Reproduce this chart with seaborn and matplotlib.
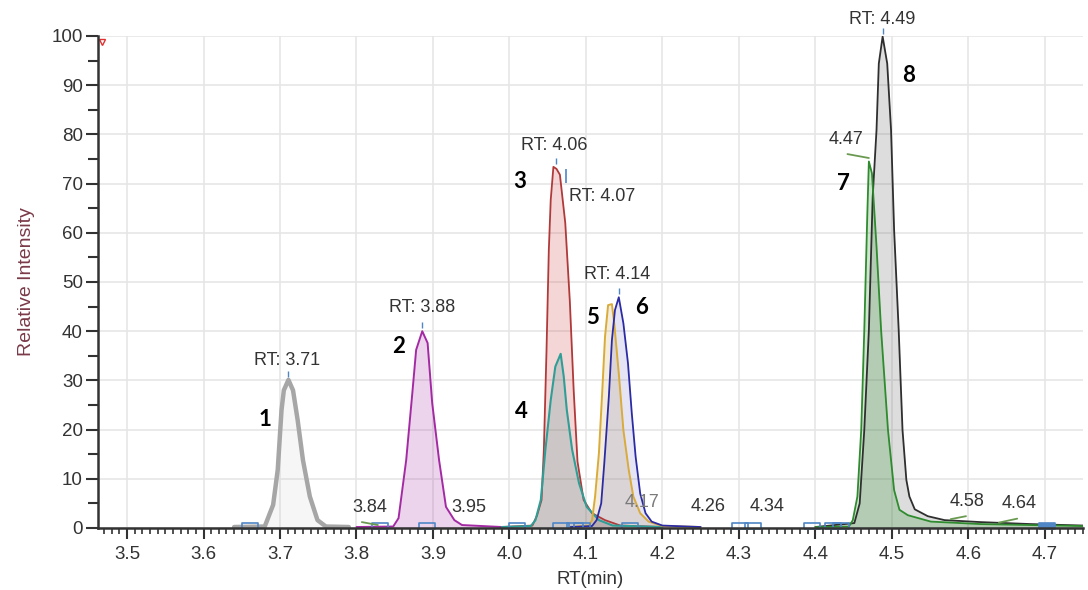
import numpy as np
import pandas as pd
import matplotlib
matplotlib.use("Agg")
import matplotlib.pyplot as plt
import seaborn as sns
from matplotlib.ticker import MultipleLocator, FormatStrFormatter

# === DATA ===
rt_p1 = [3.640, 3.680, 3.691, 3.697, 3.702, 3.705, 3.711, 3.717, 3.723, 3.730, 3.739, 3.749, 3.760, 3.790]
int_p1 = [0.2, 0.3, 4.7, 11.8, 24.0, 28.0, 30.1, 28.0, 22.0, 13.8, 6.4, 1.6, 0.3, 0.2]

rt_p2 = [3.800, 3.848, 3.855, 3.865, 3.873, 3.878, 3.886, 3.893, 3.899, 3.908, 3.917, 3.928, 3.938, 3.990]
int_p2 = [0.2, 0.3, 2.0, 13.8, 27.4, 36.2, 40.0, 37.6, 25.4, 13.8, 4.3, 1.6, 0.6, 0.2]

rt_p3 = [3.990, 4.030, 4.036, 4.042, 4.045, 4.0485, 4.0515, 4.054, 4.0575, 4.0615, 4.066,
         4.073, 4.079, 4.084, 4.089, 4.097, 4.108, 4.125, 4.145, 4.200]
int_p3 = [0.2, 0.5, 2.5, 5.7, 15.9, 36.2, 56.5, 66.7, 73.4, 73.0, 71.8,
          62.0, 46.0, 28.0, 13.5, 5.7, 3.0, 1.6, 0.5, 0.2]

rt_p4 = [3.990, 4.028, 4.034, 4.041, 4.047, 4.054, 4.060, 4.067, 4.071, 4.075, 4.082, 4.091, 4.101, 4.117, 4.135, 4.200]
int_p4 = [0.2, 0.4, 1.6, 5.7, 15.9, 26.0, 32.8, 35.4, 30.8, 24.0, 15.9, 9.1, 4.3, 1.6, 0.5, 0.2]

rt_p5 = [4.080, 4.104, 4.108, 4.112, 4.117, 4.121, 4.125, 4.129, 4.134, 4.137, 4.143, 4.149,
         4.156, 4.162, 4.171, 4.182, 4.200, 4.250]
int_p5 = [0.2, 0.5, 1.6, 6.4, 15.2, 26.7, 38.9, 45.3, 45.5, 41.6, 31.4, 19.9,
          11.8, 6.4, 3.0, 1.3, 0.4, 0.2]

rt_p6 = [4.080, 4.108, 4.114, 4.120, 4.124, 4.130, 4.134, 4.138, 4.143, 4.149, 4.155, 4.160,
         4.165, 4.171, 4.178, 4.186, 4.200, 4.250]
int_p6 = [0.2, 0.4, 1.6, 5.0, 13.1, 26.7, 38.2, 44.3, 46.9, 41.6, 33.5, 23.3,
          14.5, 7.0, 3.0, 1.3, 0.5, 0.2]

rt_p7 = [4.400, 4.444, 4.449, 4.455, 4.460, 4.464, 4.468, 4.470, 4.474, 4.480, 4.486, 4.495,
         4.503, 4.510, 4.521, 4.551, 4.616, 4.681, 4.750]
int_p7 = [0.2, 0.3, 1.6, 6.4, 19.9, 40.2, 64.0, 74.5, 72.1, 57.2, 40.2, 19.9,
          7.7, 3.7, 2.6, 1.3, 0.8, 0.6, 0.4]

rt_p8 = [4.400, 4.451, 4.458, 4.464, 4.470, 4.475, 4.480, 4.483, 4.488, 4.494, 4.499, 4.503,
         4.509, 4.514, 4.519, 4.523, 4.530, 4.547, 4.569, 4.616, 4.681, 4.750]
int_p8 = [0.2, 1.0, 5.0, 19.9, 40.2, 67.3, 80.9, 94.4, 99.9, 94.4, 80.9, 60.6,
          40.2, 19.9, 9.8, 6.4, 3.8, 2.4, 1.6, 1.2, 0.8, 0.5]

# peak boundary markers on the baseline
boundary_rt = [3.661, 3.831, 3.892, 4.010, 4.068, 4.086, 4.095, 4.157, 4.301, 4.318, 4.395, 4.423, 4.434]
boundary_end_rt = [4.703]

# RT labels: (text, rt, intensity, colour, ha)
rt_labels = [
    ("RT: 3.71", 3.709, 32.4, "#333333", "center"),
    ("RT: 3.88", 3.886, 43.0, "#333333", "center"),
    ("RT: 4.06", 4.059, 76.0, "#333333", "center"),
    ("RT: 4.07", 4.078, 65.6, "#333333", "left"),
    ("RT: 4.14", 4.141, 49.8, "#333333", "center"),
    ("RT: 4.49", 4.487, 101.6, "#333333", "center"),
    ("4.47", 4.440, 77.2, "#333333", "center"),
    ("3.84", 3.817, 2.4, "#333333", "center"),
    ("3.95", 3.947, 2.4, "#333333", "center"),
    ("4.17", 4.173, 3.5, "#7a7a7a", "center"),
    ("4.26", 4.260, 2.7, "#333333", "center"),
    ("4.34", 4.337, 2.7, "#333333", "center"),
    ("4.58", 4.598, 3.7, "#333333", "center"),
    ("4.64", 4.667, 3.3, "#333333", "center"),
]

# compound numbers
peak_numbers = ["1", "2", "3", "4", "5", "6", "7", "8"]
number_rt = [3.680, 3.855, 4.014, 4.015, 4.109, 4.173, 4.437, 4.522]
number_int = [22.0, 36.8, 70.5, 23.6, 42.7, 44.9, 70.1, 92.0]

# === STYLE ===
sns.set_style("white")
plt.rcParams["font.family"] = ["Liberation Sans", "DejaVu Sans"]

traces = [
    (rt_p1, int_p1, "#a6a6a6", 3.2, "#bdbdbd", 0.12),
    (rt_p2, int_p2, "#a42aa4", 1.4, "#a42aa4", 0.2),
    (rt_p3, int_p3, "#b03a3a", 1.3, "#d04545", 0.22),
    (rt_p4, int_p4, "#2f9e96", 1.5, "#2f8f88", 0.2),
    (rt_p5, int_p5, "#d9ab3a", 1.4, "#c9a050", 0.2),
    (rt_p6, int_p6, "#2b2ba5", 1.3, "#5050c0", 0.15),
    (rt_p8, int_p8, "#2f2f2f", 1.3, "#555555", 0.2),
    (rt_p7, int_p7, "#2e8b2e", 1.3, "#3c9a3c", 0.25),
]

fig = plt.figure(figsize=(10.88, 5.9), dpi=100)
ax = fig.add_axes([98 / 1088, 62 / 590, 985 / 1088, 492 / 590])

for rt, inten, col, lw, fcol, alpha in traces:
    ax.fill_between(rt, 0, inten, color=fcol, alpha=alpha, lw=0, zorder=2)
    sns.lineplot(x=rt, y=inten, color=col, lw=lw, ax=ax, sort=False, estimator=None, zorder=3)

# boundary markers
rect = [(-1, -0.45), (1, -0.45), (1, 0.45), (-1, 0.45), (-1, -0.45)]
ax.plot(boundary_rt, [0.45] * len(boundary_rt), ls="none", marker=rect, ms=11,
        mfc="none", mec="#4f86c6", mew=1.2, clip_on=False, zorder=4)
ax.plot(boundary_end_rt, [0.45] * len(boundary_end_rt), ls="none", marker=rect, ms=11,
        mfc="#4f86c6", mec="#4f86c6", mew=1.2, clip_on=False, zorder=4)
ax.plot([3.467], [98.8], ls="none", marker="v", ms=5, mfc="none", mec="#e03030", mew=1, clip_on=False, zorder=5)

# apex tick marks
ax.plot([3.711, 3.886, 4.061, 4.143, 4.488], [31.3, 41.2, 74.6, 48.2, 101.0], ls="none",
        marker="|", ms=4, mec="#4f86c6", mew=1, clip_on=False, zorder=5)
ax.plot([4.074], [71.5], ls="none", marker="|", ms=10, mec="#4f86c6", mew=1.2, zorder=5)

# leader lines below some labels
for x0, y0, x1, y1 in [(3.807, 1.2, 3.828, 0.6), (4.442, 76.0, 4.470, 75.2),
                       (4.577, 1.8, 4.597, 2.4), (4.640, 1.1, 4.664, 1.9)]:
    ax.plot([x0, x1], [y0, y1], color="#6a9a50", lw=1.3, zorder=5)

for txt, x, y, col, ha in rt_labels:
    ax.text(x, y, txt, ha=ha, va="bottom", fontsize=13, color=col, clip_on=False, zorder=6)

for txt, x, y in zip(peak_numbers, number_rt, number_int):
    ax.text(x, y, txt, ha="center", va="center", fontsize=16, fontweight="bold",
            family=["Lato", "DejaVu Sans"], color="black", zorder=6)

# === AXES ===
ax.set_xlim(3.462, 4.75)
ax.set_ylim(0, 100)
ax.xaxis.set_major_locator(MultipleLocator(0.1))
ax.xaxis.set_minor_locator(MultipleLocator(0.01))
ax.xaxis.set_major_formatter(FormatStrFormatter("%.1f"))
ax.yaxis.set_major_locator(MultipleLocator(10))
ax.yaxis.set_minor_locator(MultipleLocator(5))

ax.grid(True, which="major", color="#e6e6e6", lw=1.2, zorder=0)
ax.set_axisbelow(True)
for side in ["top", "right"]:
    ax.spines[side].set_visible(False)
for side in ["left", "bottom"]:
    ax.spines[side].set_color("#333333")
    ax.spines[side].set_linewidth(1.8)
    ax.spines[side].set_zorder(7)

ax.tick_params(axis="y", which="major", direction="out", length=9, width=1.5, color="#333333",
               labelsize=13.5, labelcolor="#333333", pad=2, left=True)
ax.tick_params(axis="y", which="minor", direction="out", length=7, width=1.5, color="#333333", left=True)
ax.tick_params(axis="x", which="major", direction="out", length=8, width=1.5, color="#333333",
               labelsize=13.5, labelcolor="#333333", pad=5, bottom=True)
ax.tick_params(axis="x", which="minor", direction="out", length=4.5, width=1.2, color="#333333", bottom=True)

ax.set_xlabel("RT(min)", fontsize=13.5, color="#333333", labelpad=6)
ax.set_ylabel("Relative Intensity", fontsize=14, color="#7a3a48", labelpad=12)

plt.savefig("out.png", dpi=100)
plt.close()
